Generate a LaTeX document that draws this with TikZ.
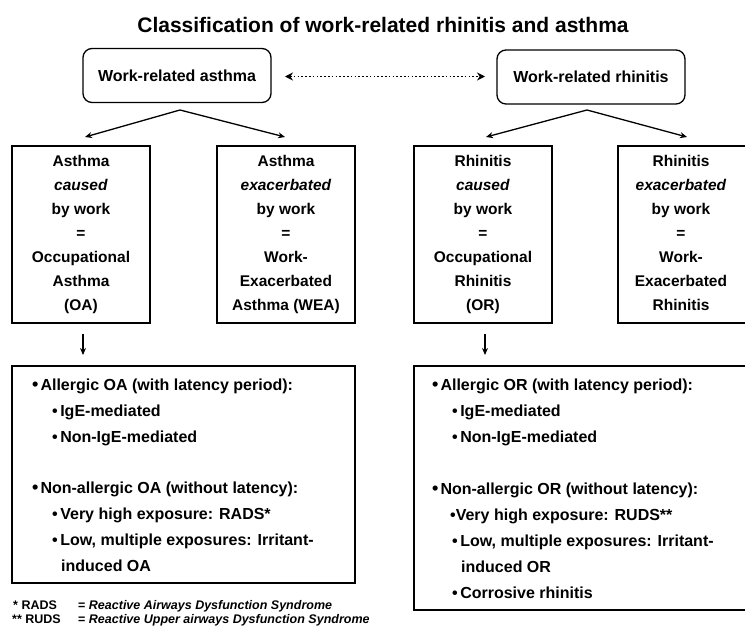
\documentclass[tikz,border=0pt]{standalone}
\usepackage{fontspec}
\setmainfont{Liberation Sans}
\usetikzlibrary{arrows.meta}
\tikzset{
  topbox/.style={draw, line width=1.3pt, rounded corners=9pt, minimum width=188pt, minimum height=54pt, inner sep=0pt, font=\bfseries\fontsize{16}{19}\selectfont},
  midbox/.style={draw, line width=2.4pt, minimum height=177pt, inner sep=0pt},
  midtext/.style={align=center, inner sep=0pt, font=\bfseries\fontsize{15.5}{24}\selectfont},
  botbox/.style={draw, line width=2.4pt, inner sep=0pt},
  bl/.style={anchor=base west, inner sep=0pt, font=\bfseries\fontsize{16}{19}\selectfont},
  fn/.style={anchor=base west, inner sep=0pt, font=\bfseries\fontsize{12.5}{15}\selectfont},
  arr/.style={line width=1.3pt, -{Stealth[length=7pt,width=6pt]}},
  dotarr/.style={line width=1.8pt, dash pattern=on 1.6pt off 2.2pt, {Stealth[length=8pt,width=8pt]}-{Stealth[length=8pt,width=8pt]}},
}
\newcommand{\lh}{\vphantom{(Ay}}
\begin{document}
\begin{tikzpicture}[x=1pt,y=-1pt]
\useasboundingbox (0,0) rectangle (745,626);
\fill[white] (0,0) rectangle (745,626);

\node[inner sep=0pt, font=\bfseries\fontsize{21}{24}\selectfont] (title) at (383,25) {Classification of work-related rhinitis and asthma};

\node[topbox] (wra) at (177,75.5) {Work-related asthma};
\node[topbox] (wrr) at (591,77) {Work-related rhinitis};

\coordinate (dl) at (285,76.5);
\coordinate (dr) at (485,76.5);
\draw[dotarr] (dl) -- (dr);

% middle boxes
\node[midbox, minimum width=138pt] (b1) at (81,234.5) {};
\node[midbox, minimum width=138pt] (b2) at (286,234.5) {};
\node[midbox, minimum width=138pt] (b3) at (483,234.5) {};
\node[midbox, minimum width=134pt] (b4) at (685,234.5) {};

\node[midtext] (t1) at (b1.center) {Asthma\lh\\\textit{caused}\\by work\\=\\Occupational\\Asthma\\(OA)\lh};
\node[midtext] (t2) at (b2.center) {Asthma\lh\\\textit{exacerbated}\\by work\\=\\Work-\\Exacerbated\\Asthma (WEA)\lh};
\node[midtext] (t3) at (b3.center) {Rhinitis\lh\\\textit{caused}\\by work\\=\\Occupational\\Rhinitis\\(OR)\lh};
\node[midtext] (t4) at (681,234.5) {Rhinitis\lh\\\textit{exacerbated}\\by work\\=\\Work-\\Exacerbated\\Rhinitis\lh};

% branching arrows
\coordinate (apA) at (180,110);
\coordinate (eA1) at (85,137);
\coordinate (eA2) at (285,137);
\draw[arr] (apA) -- (eA1);
\draw[arr] (apA) -- (eA2);
\coordinate (apR) at (587,110);
\coordinate (eR1) at (486,137);
\coordinate (eR2) at (687,137);
\draw[arr] (apR) -- (eR1);
\draw[arr] (apR) -- (eR2);

% down arrows
\coordinate (dA1) at (83,334);
\coordinate (dA2) at (83,355);
\draw[arr] (dA1) -- (dA2);
\coordinate (dR1) at (485,334);
\coordinate (dR2) at (485,355);
\draw[arr] (dR1) -- (dR2);

% bottom boxes
\node[botbox, minimum width=343pt, minimum height=217pt] (ba) at (183.5,474.5) {};
\node[botbox, minimum width=338pt, minimum height=244pt] (br) at (583,488) {};

\node[bl] (a1) at (32,390) {{\fontsize{18}{19}\selectfont •}\hspace{2pt}Allergic OA (with latency period):};
\node[bl] (a2) at (52,416) {•\hspace{2.5pt}IgE-mediated};
\node[bl] (a3) at (52,442) {•\hspace{2.5pt}Non-IgE-mediated};
\node[bl] (a4) at (32,493) {{\fontsize{18}{19}\selectfont •}\hspace{2pt}Non-allergic OA (without latency):};
\node[bl] (a5) at (52,519) {•\hspace{2.5pt}Very high exposure: RADS*};
\node[bl] (a6) at (52,545) {•\hspace{2.5pt}Low, multiple exposures: Irritant-};
\node[bl] (a7) at (61,571) {induced OA};

\node[bl] (r1) at (432,390) {{\fontsize{18}{19}\selectfont •}\hspace{2pt}Allergic OR (with latency period):};
\node[bl] (r2) at (452,416) {•\hspace{2.5pt}IgE-mediated};
\node[bl] (r3) at (452,442) {•\hspace{2.5pt}Non-IgE-mediated};
\node[bl] (r4) at (432,494) {{\fontsize{18}{19}\selectfont •}\hspace{2pt}Non-allergic OR (without latency):};
\node[bl] (r5) at (450,520) {•Very high exposure: RUDS**};
\node[bl] (r6) at (452,546) {•\hspace{2.5pt}Low, multiple exposures: Irritant-};
\node[bl] (r7) at (461,572) {induced OR};
\node[bl] (r8) at (452,598) {•\hspace{2.5pt}Corrosive rhinitis};

% footnotes
\node[fn] (f1a) at (13,609.5) {* RADS};
\node[fn] (f1b) at (78,609.5) {= \textit{Reactive Airways Dysfunction Syndrome}};
\node[fn] (f2a) at (12,623) {** RUDS};
\node[fn] (f2b) at (78,623) {= \textit{Reactive Upper airways Dysfunction Syndrome}};
\end{tikzpicture}
\end{document}
